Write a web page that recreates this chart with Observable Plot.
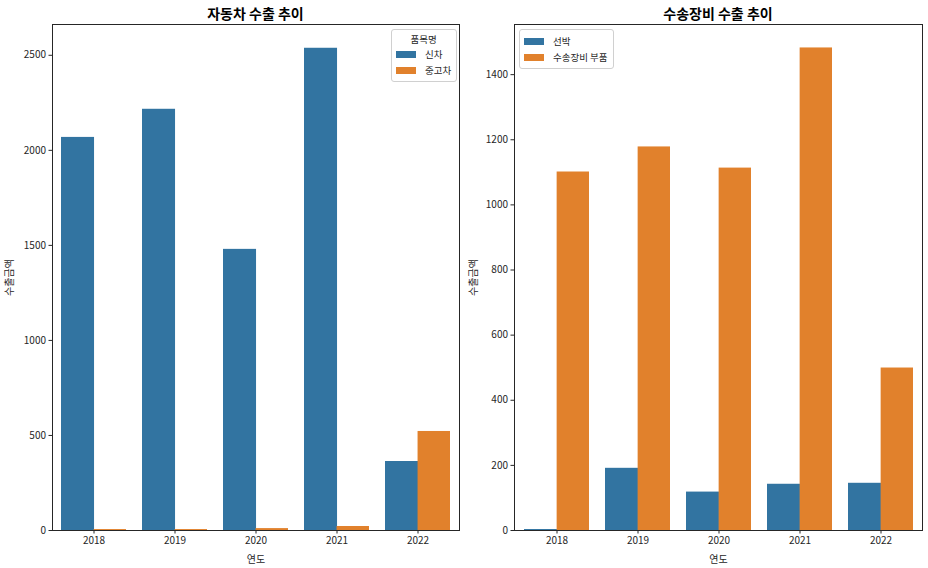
<!DOCTYPE html>
<html><head><meta charset="utf-8">
<script src="https://cdn.jsdelivr.net/npm/d3@7"></script>
<script src="https://cdn.jsdelivr.net/npm/@observablehq/plot@0.6"></script>
<style>
body{margin:0;background:#fff;font-family:"Noto Sans CJK KR","Noto Sans",sans-serif;color:#262626;}
#wrap{position:relative;width:928px;height:568px;overflow:hidden;}
.panel{position:absolute;top:0;width:464px;height:568px;}
.title{position:absolute;top:2px;height:22px;line-height:22px;font-weight:bold;font-size:14px;text-align:center;color:#000;}
.legend{position:absolute;border:1px solid #d0d0d0;border-radius:3px;background:rgba(255,255,255,0.85);font-size:9.5px;padding:3px 5px 3px 4px;box-sizing:border-box;}
.legend .lt{text-align:center;line-height:13px;}
.legend .row{display:flex;align-items:center;height:16px;}
.legend .sw{width:20px;height:7px;margin-right:9px;}
</style>
</head><body>
<div id="wrap"></div>
<script>
const years = ["2018", "2019", "2020", "2021", "2022"];

const carTitle = "자동차 수출 추이";
const carSeries = ["신차", "중고차"];
const carNew = [2068, 2216, 1479, 2537, 363];
const carUsed = [5, 5, 10, 21, 521];
const carTicks = [0, 500, 1000, 1500, 2000, 2500];

const trTitle = "수송장비 수출 추이";
const trSeries = ["선박", "수송장비 부품"];
const trShip = [3, 191, 118, 142, 145];
const trParts = [1101, 1178, 1113, 1482, 499];
const trTicks = [0, 200, 400, 600, 800, 1000, 1200, 1400];

const colors = ["#3274a1", "#e1812c"];
const xLabel = "연도";
const yLabel = "수출금액";

function panel({left, title, series, a, b, ticks, ymax, mL, mR, legend}) {
  const W = 464, H = 548;
  const div = document.createElement("div");
  div.className = "panel";
  div.style.left = left + "px";
  const t = document.createElement("div");
  t.className = "title";
  t.textContent = title;
  t.style.left = mL + "px";
  t.style.width = (W - mL - mR) + "px";
  div.appendChild(t);

  const dataA = years.map((y, i) => ({year: y, series: series[0], value: a[i]}));
  const dataB = years.map((y, i) => ({year: y, series: series[1], value: b[i]}));
  const plotW = W - mL - mR;
  const half = plotW / years.length * 0.8 / 2;

  const chart = Plot.plot({
    width: W, height: H,
    marginTop: 4, marginBottom: 38, marginLeft: mL, marginRight: mR,
    style: {fontFamily: '"Noto Sans CJK KR","Noto Sans",sans-serif', fontSize: "10px", color: "#262626", background: "transparent"},
    x: {type: "band", domain: years, paddingInner: 0.2, paddingOuter: 0.1},
    y: {domain: [0, ymax], labelArrow: "none"},
    color: {domain: series, range: colors},
    marks: [
      Plot.barY(dataA, {x: "year", y: "value", fill: "series", insetRight: half - 0.6}),
      Plot.barY(dataB, {x: "year", y: "value", fill: "series", insetLeft: half}),
      Plot.frame({stroke: "#262626", strokeWidth: 1}),
      Plot.axisX({tickSize: 3.5, tickPadding: 3, label: xLabel, labelAnchor: "center", labelOffset: 32, fontSize: 10, color: "#262626"}),
      Plot.axisY({ticks, tickSize: 3.5, tickPadding: 3, label: yLabel, labelArrow: "none", labelAnchor: "center", labelOffset: mL - 5, fontSize: 10, color: "#262626", tickFormat: d => String(d)})
    ]
  });
  chart.style.position = "absolute";
  chart.style.top = "20px";
  chart.style.left = "0px";
  div.appendChild(chart);

  const lg = document.createElement("div");
  lg.className = "legend";
  lg.style.left = legend.x + "px";
  lg.style.top = legend.y + "px";
  if (legend.title) {
    const lt = document.createElement("div");
    lt.className = "lt";
    lt.textContent = legend.title;
    lg.appendChild(lt);
  }
  series.forEach((s, i) => {
    const r = document.createElement("div");
    r.className = "row";
    const sw = document.createElement("span");
    sw.className = "sw";
    sw.style.background = colors[i];
    const tx = document.createElement("span");
    tx.textContent = s;
    r.appendChild(sw); r.appendChild(tx);
    lg.appendChild(r);
  });
  div.appendChild(lg);
  document.getElementById("wrap").appendChild(div);
}

panel({left: 0, title: carTitle, series: carSeries, a: carNew, b: carUsed, ticks: carTicks, ymax: 2662, mL: 52, mR: 5,
  legend: {x: 391, y: 29, title: "품목명"}});
panel({left: 464, title: trTitle, series: trSeries, a: trShip, b: trParts, ticks: trTicks, ymax: 1554, mL: 50, mR: 6,
  legend: {x: 55, y: 29, title: null}});
</script>
</body></html>
